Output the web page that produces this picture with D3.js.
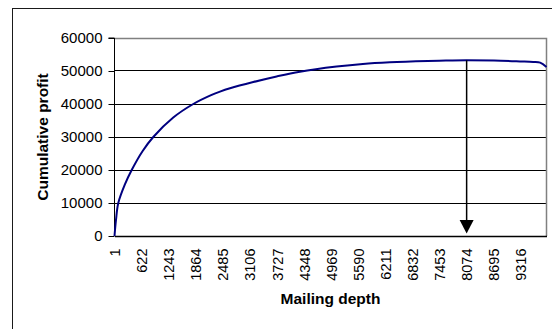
<!DOCTYPE html>
<html>
<head>
<meta charset="utf-8">
<script src="https://cdn.jsdelivr.net/npm/d3@7"></script>
<style>
  html, body { margin: 0; padding: 0; background: #fff; }
  svg { display: block; }
  text { font-family: "Liberation Sans", Arial, sans-serif; fill: #000; }
</style>
</head>
<body>
<svg id="chart" width="552" height="329"></svg>
<script>
// Cumulative profit by mailing depth (records mailed, best prospects first)
const depths  = [1, 35, 88, 242, 395, 643, 890, 1348, 1807, 2228, 2420, 2649, 3182, 3718,
                 4252, 5093, 5695, 6314, 7185, 7600, 8074, 8700, 9300, 9600, 9760, 9905];
const profits = [0, 4850, 10000, 15700, 20000, 25700, 30000, 35900, 40000, 42760, 43760,
                 44760, 46650, 48350, 49800, 51350, 52150, 52640, 53050, 53180, 53250,
                 53150, 52900, 52750, 52550, 51200];

const xTickLabels = [1, 622, 1243, 1864, 2485, 3106, 3727, 4348, 4969, 5590,
                     6211, 6832, 7453, 8074, 8695, 9316];
const yTickValues = [0, 10000, 20000, 30000, 40000, 50000, 60000];

const optimalDepth = 8074;
const maxDepth = 9905;

const svg = d3.select("#chart");

// outer chart frame
svg.append("rect")
  .attr("x", 12.5).attr("y", 8.5)
  .attr("width", 600).attr("height", 400)
  .attr("fill", "#fff")
  .attr("stroke", "#1a1a1a").attr("stroke-width", 1);

const plot = { left: 114.5, right: 546.5, top: 38, bottom: 236 };

const x = d3.scaleLinear().domain([1, maxDepth]).range([plot.left, plot.right]);
const y = d3.scaleLinear().domain([0, 60000]).range([plot.bottom, plot.top]);

const crisp = v => Math.round(v) + 0.5;

// horizontal gridlines
svg.append("g")
  .selectAll("line")
  .data(yTickValues.filter(v => v > 0 && v < 60000))
  .join("line")
  .attr("x1", plot.left).attr("x2", plot.right)
  .attr("y1", d => crisp(y(d) - 0.5)).attr("y2", d => crisp(y(d) - 0.5))
  .attr("stroke", "#000").attr("stroke-width", 1);

// plot area border (top and right)
svg.append("path")
  .attr("d", `M${plot.left},${crisp(y(60000) - 0.5)}H${plot.right}V${plot.bottom}`)
  .attr("fill", "none")
  .attr("stroke", "#808080").attr("stroke-width", 1.5);

// y axis
const yAxis = d3.axisLeft(y)
  .tickValues(yTickValues)
  .tickSize(6)
  .tickPadding(6)
  .tickFormat(d3.format("d"));
const gy = svg.append("g")
  .attr("transform", `translate(${plot.left},0)`)
  .call(yAxis);
gy.select(".domain").attr("stroke", "#000").attr("d", `M-6,${plot.top}H0V${plot.bottom}`);
gy.selectAll(".tick line").attr("stroke", "#000");
gy.selectAll(".tick text")
  .style("font-size", "15px")
  .attr("font-family", null);

// x axis (category labels every 621 records)
const xAxis = d3.axisBottom(x)
  .tickValues(xTickLabels)
  .tickSize(0)
  .tickPadding(0)
  .tickFormat(d => String(d));
const gx = svg.append("g")
  .attr("transform", `translate(0,${plot.bottom})`)
  .call(xAxis);
gx.select(".domain").attr("stroke", "#000").attr("stroke-width", 1.5);
gx.selectAll(".tick text")
  .attr("font-family", null)
  .style("font-size", "14.5px")
  .attr("text-anchor", "end")
  .attr("y", 0).attr("dy", null)
  .attr("transform", "translate(0,12.5) rotate(-90)")
  .attr("dominant-baseline", "central");

// cumulative profit curve
const line = d3.line()
  .x((d, i) => x(depths[i]))
  .y(d => y(d))
  .curve(d3.curveCatmullRom.alpha(0.5));
svg.append("path")
  .datum(profits)
  .attr("d", line)
  .attr("fill", "none")
  .attr("stroke", "#000080")
  .attr("stroke-width", 2);

// arrow marking the most profitable depth
const peak = profits[depths.indexOf(optimalDepth)];
const ax = x(optimalDepth);
const headTop = y(0) - 16;
svg.append("line")
  .attr("x1", ax).attr("x2", ax)
  .attr("y1", y(peak)).attr("y2", headTop + 2)
  .attr("stroke", "#000").attr("stroke-width", 1.5);
svg.append("path")
  .attr("d", `M${ax - 7},${headTop}H${ax + 7}L${ax},${y(0) - 2.5}Z`)
  .attr("fill", "#000");

// axis titles
svg.append("text")
  .attr("x", (plot.left + plot.right) / 2)
  .attr("y", 304)
  .attr("text-anchor", "middle")
  .style("font-size", "15.5px")
  .style("font-weight", "bold")
  .text("Mailing depth");

svg.append("text")
  .attr("transform", `translate(42.5,${(plot.top + plot.bottom) / 2}) rotate(-90)`)
  .attr("text-anchor", "middle")
  .attr("dominant-baseline", "central")
  .style("font-size", "15.5px")
  .style("font-weight", "bold")
  .text("Cumulative profit");
</script>
</body>
</html>
